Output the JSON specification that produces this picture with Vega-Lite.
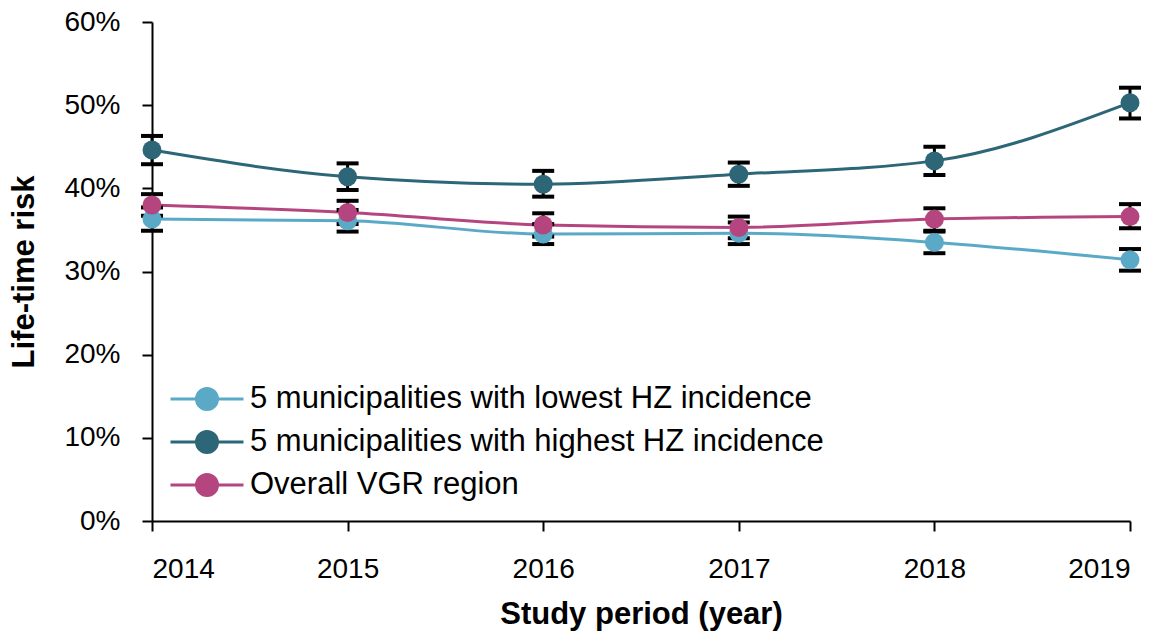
{
  "$schema": "https://vega.github.io/schema/vega-lite/v6.json",
  "width": 978,
  "height": 499,
  "autosize": {"type": "none"},
  "padding": {"left": 152, "top": 22, "right": 41, "bottom": 115},
  "background": "white",
  "config": {
    "font": "Liberation Sans",
    "view": {"stroke": null},
    "axis": {"domainColor": "black", "tickColor": "black", "domainWidth": 2, "tickWidth": 2, "tickSize": 10, "labelColor": "black", "titleColor": "black", "grid": false, "labelFontSize": 28, "titleFontSize": 31, "titleFontWeight": "bold"}
  },
  "data": {
    "values": [
      {"year": 2014, "series": "5 municipalities with lowest HZ incidence", "value": 0.363, "lo": 0.349, "hi": 0.377},
      {"year": 2015, "series": "5 municipalities with lowest HZ incidence", "value": 0.361, "lo": 0.348, "hi": 0.374},
      {"year": 2016, "series": "5 municipalities with lowest HZ incidence", "value": 0.345, "lo": 0.333, "hi": 0.357},
      {"year": 2017, "series": "5 municipalities with lowest HZ incidence", "value": 0.346, "lo": 0.333, "hi": 0.359},
      {"year": 2018, "series": "5 municipalities with lowest HZ incidence", "value": 0.335, "lo": 0.322, "hi": 0.348},
      {"year": 2019, "series": "5 municipalities with lowest HZ incidence", "value": 0.314, "lo": 0.301, "hi": 0.327},
      {"year": 2014, "series": "5 municipalities with highest HZ incidence", "value": 0.446, "lo": 0.429, "hi": 0.463},
      {"year": 2015, "series": "5 municipalities with highest HZ incidence", "value": 0.414, "lo": 0.398, "hi": 0.430},
      {"year": 2016, "series": "5 municipalities with highest HZ incidence", "value": 0.405, "lo": 0.390, "hi": 0.421},
      {"year": 2017, "series": "5 municipalities with highest HZ incidence", "value": 0.417, "lo": 0.403, "hi": 0.431},
      {"year": 2018, "series": "5 municipalities with highest HZ incidence", "value": 0.433, "lo": 0.416, "hi": 0.450},
      {"year": 2019, "series": "5 municipalities with highest HZ incidence", "value": 0.503, "lo": 0.484, "hi": 0.521},
      {"year": 2014, "series": "Overall VGR region", "value": 0.380, "lo": 0.367, "hi": 0.393},
      {"year": 2015, "series": "Overall VGR region", "value": 0.371, "lo": 0.357, "hi": 0.385},
      {"year": 2016, "series": "Overall VGR region", "value": 0.356, "lo": 0.342, "hi": 0.370},
      {"year": 2017, "series": "Overall VGR region", "value": 0.353, "lo": 0.340, "hi": 0.366},
      {"year": 2018, "series": "Overall VGR region", "value": 0.363, "lo": 0.349, "hi": 0.376},
      {"year": 2019, "series": "Overall VGR region", "value": 0.366, "lo": 0.352, "hi": 0.381}
    ]
  },
  "encoding": {
    "x": {"field": "year", "type": "quantitative", "scale": {"domain": [2014, 2019], "nice": false, "zero": false}, "axis": {"title": "Study period (year)", "format": "d", "values": [2014, 2015, 2016, 2017, 2018, 2019], "labelPadding": 24, "titlePadding": 16}},
    "y": {"field": "value", "type": "quantitative", "scale": {"domain": [0, 0.6], "nice": false}, "axis": {"title": "Life-time risk", "format": ".0%", "values": [0, 0.1, 0.2, 0.3, 0.4, 0.5, 0.6], "labelPadding": 22, "titlePadding": 23}}
  },
  "layer": [
    {
      "mark": {"type": "line", "interpolate": "monotone", "strokeWidth": 3},
      "encoding": {
        "color": {"field": "series", "type": "nominal", "sort": null,
          "scale": {"domain": ["5 municipalities with lowest HZ incidence", "5 municipalities with highest HZ incidence", "Overall VGR region"], "range": ["#5AAAC7", "#2D6677", "#B5457E"]},
          "legend": {"title": null, "orient": "none", "legendX": 35, "legendY": 357, "labelFontSize": 31, "labelLimit": 900, "labelColor": "black", "symbolType": "M-2,0H2M-0.575,0A0.575,0.575,0,1,1,0.575,0A0.575,0.575,0,1,1,-0.575,0Z", "symbolSize": 1332, "symbolStrokeWidth": 3, "labelOffset": 23, "rowPadding": 6,
            "encode": {"symbols": {"update": {"fill": {"scale": "color", "field": "value"}, "stroke": {"scale": "color", "field": "value"}, "strokeWidth": {"value": 3}, "opacity": {"value": 1}, "fillOpacity": {"value": 1}}}}}
        }
      }
    },
    {
      "mark": {"type": "rule", "color": "black", "strokeWidth": 3},
      "encoding": {"y": {"field": "lo", "type": "quantitative"}, "y2": {"field": "hi"}}
    },
    {
      "mark": {"type": "tick", "orient": "horizontal", "color": "black", "opacity": 1, "thickness": 4, "size": 22},
      "encoding": {"y": {"field": "lo", "type": "quantitative"}}
    },
    {
      "mark": {"type": "tick", "orient": "horizontal", "color": "black", "opacity": 1, "thickness": 4, "size": 22},
      "encoding": {"y": {"field": "hi", "type": "quantitative"}}
    },
    {
      "mark": {"type": "point", "filled": true, "opacity": 1, "size": 360},
      "encoding": {"color": {"field": "series", "type": "nominal"}}
    }
  ]
}
